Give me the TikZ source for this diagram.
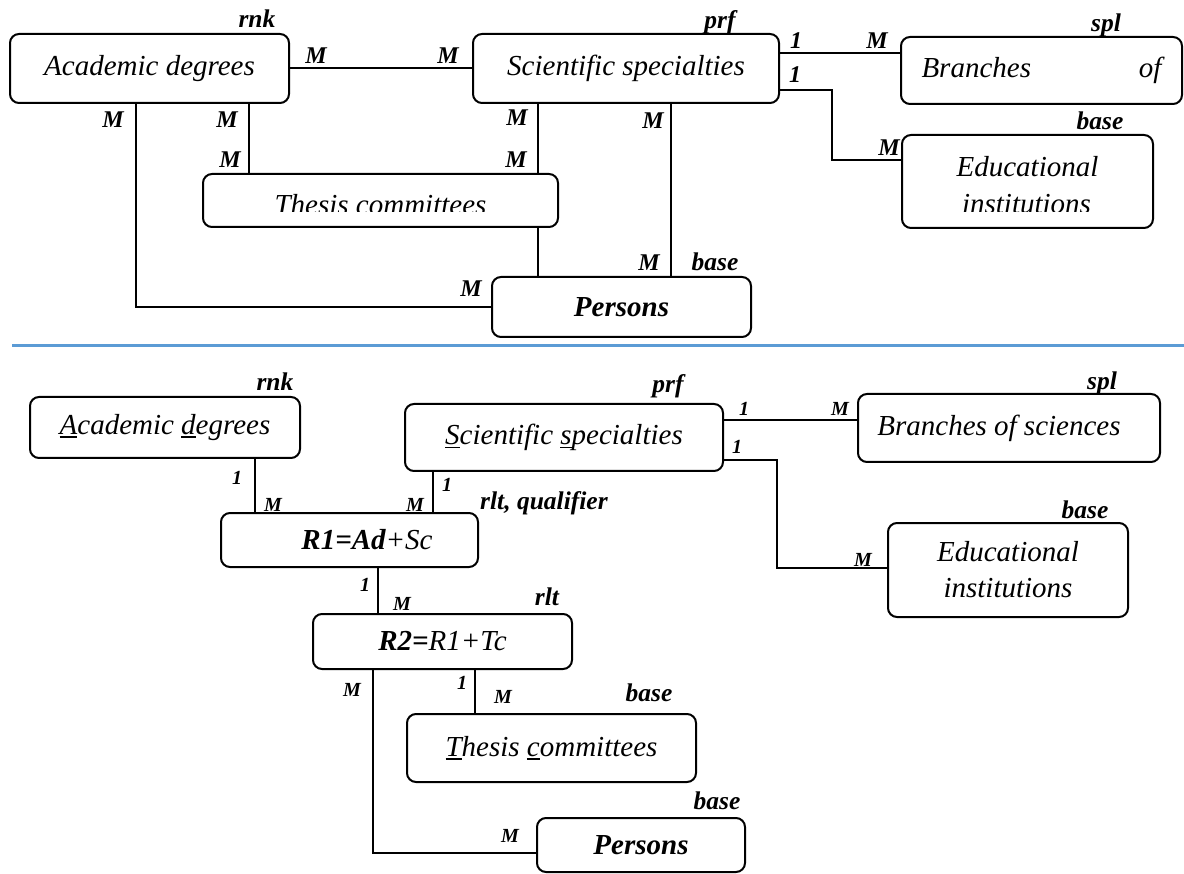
\documentclass[tikz,border=0pt]{standalone}
\usepackage{fontspec}
\setmainfont{Liberation Serif}

% fonts used in the diagram
\newcommand{\boxfont}{\fontsize{29}{36}\selectfont\itshape}
\newcommand{\tagfont}{\fontsize{25.5}{30}\selectfont\bfseries\itshape}
\newcommand{\cardfont}{\fontsize{24}{28}\selectfont\bfseries\itshape}
\newcommand{\smallcardfont}{\fontsize{20}{24}\selectfont\bfseries\itshape}
% underline a single initial letter
\newcommand{\ulc}[1]{\setbox0\hbox{#1}\rlap{\rule[-3.5pt]{\wd0}{1.6pt}}#1}

\definecolor{sepblue}{RGB}{91,155,213}

\tikzset{
  ebox/.style={draw, rounded corners=9pt, line width=2pt, inner sep=0pt, font=\boxfont, align=center},
  boxtext/.style={inner sep=0pt, font=\boxfont},
  conn/.style={line width=2pt},
  tag/.style={inner sep=0pt, font=\tagfont},
  card/.style={inner sep=0pt, font=\cardfont},
  scard/.style={inner sep=0pt, font=\smallcardfont},
  sepline/.style={draw=sepblue, line width=3pt}
}

\begin{document}
\begin{tikzpicture}[x=1pt, y=-1pt]
\useasboundingbox (0,0) rectangle (1184,874);

% ---------------- upper schema ----------------
\node[ebox, minimum width=279pt, minimum height=69pt] (ad1) at (149.5,68.5) {Academic degrees};
\node[ebox, minimum width=306pt, minimum height=69pt] (sc1) at (626,68.5) {Scientific specialties};
\node[ebox, minimum width=281pt, minimum height=67pt] (br1) at (1041.5,70.5) {\makebox[240pt]{Branches\hfill of}};
\node[ebox, minimum width=251pt, minimum height=93pt] (ed1) at (1027.5,181.5) {};
\node[ebox, minimum width=355pt, minimum height=53pt] (tc1) at (380.5,200.5) {};
\node[ebox, minimum width=259pt, minimum height=60pt] (ps1) at (621.5,307) {\bfseries Persons};

% texts cut off at the lower edge
\begin{scope}
  \clip (205,176) rectangle (556,212);
  \node[boxtext, anchor=base] (tc1t) at (380.5,215) {Thesis committees};
\end{scope}
\begin{scope}
  \clip (904,137) rectangle (1151,211.5);
  \node[boxtext, anchor=base] (ed1a) at (1027.5,177) {Educational};
  \node[boxtext, anchor=base] (ed1b) at (1026.5,214) {institutions};
\end{scope}

% connectors
\draw[conn] (ad1.east) -- (sc1.west);
\draw[conn] ([xshift=127pt]ad1.south west) |- (ps1.west);
\draw[conn] ([xshift=240pt]ad1.south west) -- ([xshift=240pt]ad1.south west |- tc1.north);
\draw[conn] ([xshift=66pt]sc1.south west) -- ([xshift=66pt]sc1.south west |- tc1.north);
\draw[conn] ([xshift=336pt]tc1.south west) -- ([xshift=336pt]tc1.south west |- ps1.north);
\draw[conn] ([xshift=199pt]sc1.south west) -- ([xshift=199pt]sc1.south west |- ps1.north);
\draw[conn] ([yshift=-20pt]sc1.north east) -- ([yshift=-20pt]sc1.north east -| br1.west);
\draw[conn] ([yshift=14pt]sc1.south east) -- ++(52,0) |- ([yshift=21.5pt]ed1.west);

% role tags
\node[tag] (t-rnk1) at (257,19) {rnk};
\node[tag] (t-prf1) at (720,22) {prf};
\node[tag] (t-spl1) at (1106,25) {spl};
\node[tag] (t-base1) at (1100,121) {base};
\node[tag] (t-base2) at (715,262) {base};

% cardinalities
\node[card] (c1) at (316,56) {M};
\node[card] (c2) at (448,56) {M};
\node[card] (c3) at (113,120) {M};
\node[card] (c4) at (227,120) {M};
\node[card] (c5) at (230,160) {M};
\node[card] (c6) at (517,118) {M};
\node[card] (c7) at (516,160) {M};
\node[card] (c8) at (653,121) {M};
\node[card] (c9) at (649,263) {M};
\node[card] (c10) at (471,289) {M};
\node[card] (c11) at (796,41) {1};
\node[card] (c12) at (877,41) {M};
\node[card] (c13) at (795,75) {1};
\node[card] (c14) at (889,148) {M};

% separator
\coordinate (sepL) at (12,346);
\coordinate (sepR) at (1184,346);
\draw[sepline] (sepL) -- (sepR);

% ---------------- lower schema ----------------
\node[ebox, minimum width=270pt, minimum height=61pt] (ad2) at (165,427.5) {\ulc{A}cademic \ulc{d}egrees};
\node[ebox, minimum width=318pt, minimum height=67pt] (sc2) at (564,437.5) {\ulc{S}cientific \ulc{s}pecialties};
\node[ebox, minimum width=302pt, minimum height=68pt] (br2) at (1009,428) {\hspace*{-20pt}Branches of sciences};
\node[ebox, minimum width=240pt, minimum height=94pt] (ed2) at (1008,570) {Educational\\institutions};
\node[ebox, minimum width=257pt, minimum height=54pt] (r1) at (349.5,540) {\hspace*{35pt}\textbf{R1=Ad}+Sc};
\node[ebox, minimum width=259pt, minimum height=55pt] (r2) at (442.5,641.5) {\textbf{R2=}R1+Tc};
\node[ebox, minimum width=289pt, minimum height=68pt] (tc2) at (551.5,748) {\ulc{T}hesis \ulc{c}ommittees};
\node[ebox, minimum width=208pt, minimum height=54pt] (ps2) at (641,845) {\bfseries Persons};

% connectors
\draw[conn] ([xshift=226pt]ad2.south west) -- ([xshift=226pt]ad2.south west |- r1.north);
\draw[conn] ([xshift=29pt]sc2.south west) -- ([xshift=29pt]sc2.south west |- r1.north);
\draw[conn] ([yshift=-17pt]sc2.north east) -- ([yshift=-17pt]sc2.north east -| br2.west);
\draw[conn] ([yshift=12pt]sc2.south east) -- ++(53,0) |- ([yshift=2pt]ed2.west);
\draw[conn] ([xshift=158pt]r1.south west) -- ([xshift=158pt]r1.south west |- r2.north);
\draw[conn] ([xshift=61pt]r2.south west) |- ([yshift=-8pt]ps2.west);
\draw[conn] ([xshift=163pt]r2.south west) -- ([xshift=163pt]r2.south west |- tc2.north);

% role tags
\node[tag] (t-rnk2) at (275,382) {rnk};
\node[tag] (t-prf2) at (668,386) {prf};
\node[tag] (t-spl2) at (1102,383) {spl};
\node[tag, anchor=west] (t-rltq) at (480,503) {rlt, qualifier};
\node[tag] (t-rlt) at (547,597) {rlt};
\node[tag] (t-base3) at (1085,510) {base};
\node[tag] (t-base4) at (649,693) {base};
\node[tag] (t-base5) at (717,801) {base};

% cardinalities
\node[scard] (d1) at (237,478) {1};
\node[scard] (d2) at (273,505) {M};
\node[scard] (d3) at (415,505) {M};
\node[scard] (d4) at (447,485) {1};
\node[scard] (d5) at (744,409) {1};
\node[scard] (d6) at (840,409) {M};
\node[scard] (d7) at (737,447) {1};
\node[scard] (d8) at (863,560) {M};
\node[scard] (d9) at (365,585) {1};
\node[scard] (d10) at (402,604) {M};
\node[scard] (d11) at (352,690) {M};
\node[scard] (d12) at (462,683) {1};
\node[scard] (d13) at (503,697) {M};
\node[scard] (d14) at (510,836) {M};
\end{tikzpicture}
\end{document}
